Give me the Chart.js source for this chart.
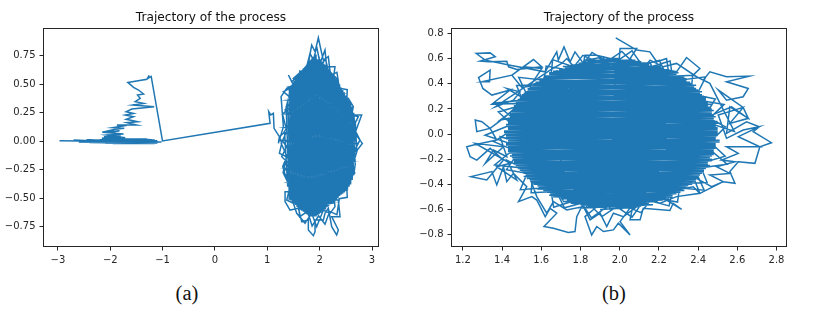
<!DOCTYPE html>
<html>
<head>
<meta charset="utf-8">
<script src="https://cdn.jsdelivr.net/npm/chart.js@4"></script>
<style>
    html, body { margin: 0; padding: 0; background: #fff; }
    #page { position: relative; width: 816px; height: 328px; overflow: hidden; }
    canvas { position: absolute; top: 0; }
    #chart_a { left: 0; }
    #chart_b { left: 410px; }
    .caption { position: absolute; top: 282px; font: 20.5px "Liberation Serif", serif; color: #111; transform: translateX(-50%); }
</style>
</head>
<body>
<div id="page">
    <canvas id="chart_a" width="400" height="271"></canvas>
    <canvas id="chart_b" width="406" height="271"></canvas>
    <div class="caption" style="left: 187px">(a)</div>
    <div class="caption" style="left: 614px">(b)</div>
</div>
<script>
//Values
let chart_title = 'Trajectory of the process';

let a_ticks_x = [-3, -2, -1, 0, 1, 2, 3];
let a_ticks_y = [-0.75, -0.5, -0.25, 0, 0.25, 0.5, 0.75];
let b_ticks_x = [1.2, 1.4, 1.6, 1.8, 2.0, 2.2, 2.4, 2.6, 2.8];
let b_ticks_y = [-0.8, -0.6, -0.4, -0.2, 0, 0.2, 0.4, 0.6, 0.8];

//Panel (a): flat start, climb, jump to the right, rims of the cloud, inside of the cloud
let a_x = [
    -2.97, -1.02, -2.7, -1.08, -2.6, -1.1, -2.45, -1.2, -2.35, -1.15, -2.2, -1.05, -2.1, -1.25, -2.05, -1.3, -2.0, -1.4,
    -2.1, -1.15, -2.4, -1.2, -1.9, -1.1, -1.95, -1.3, -2.15, -1.75, -2.12, -1.78, -2.05, -1.8,
    -2.16, -1.714, -2.064, -1.746, -2.033, -1.822, -2.153, -1.905, -1.733, -1.95, -1.759, -1.873, -1.492, -1.683, -1.479, -1.695, -1.555, -1.714, -1.555, -1.695, -1.587,
    -1.161, -1.568, -1.364, -1.524, -1.428, -1.479, -1.364, -1.46, -1.555, -1.664, -1.301, -1.256, -1.288, -1.218, -1.002,
    1.053, 1.027, 1.065, 1.116, 1.129, 1.231, 1.212,
    1.307, 1.263, 1.371, 1.498, 1.403, 1.466, 1.657, 1.784, 1.848, 1.912, 1.975, 2.039, 2.071, 2.166, 2.198, 2.325, 2.452, 2.548, 2.643, 2.611, 2.802, 2.675, 2.815, 2.719, 2.643, 2.548, 2.643, 2.484, 2.325, 2.198, 2.357, 2.389, 2.23, 2.357, 2.325, 2.23, 2.166, 2.102, 2.071, 1.912, 1.912, 1.88, 1.784, 1.784, 1.657, 1.594, 1.434, 1.339, 1.339, 1.466, 1.371, 1.295, 1.371, 1.231, 1.275, 1.231,
    1.307, 1.498, 1.339, 1.498, 1.307, 1.625, 1.498, 1.752, 1.816, 1.88, 1.943, 2.007, 2.102, 2.134, 2.293, 2.261, 2.484, 2.516, 2.738, 2.643, 2.77, 2.643, 2.707, 2.58, 2.452, 2.516, 2.261, 2.293, 2.198, 2.071, 1.943, 1.848, 1.721, 1.562, 1.498, 1.371, 1.434, 1.307, 1.403, 1.275, 1.371, 1.275,
    2.715, 2.587, 2.657, 2.513, 2.527, 2.376, 2.33, 2.191, 2.108, 1.98, 1.853, 1.769, 1.623, 1.584, 1.417, 1.447, 1.289, 1.373, 1.266, 1.373, 1.302, 1.447, 1.417, 1.584, 1.62, 1.769, 1.856, 1.98, 2.102, 2.191, 2.33, 2.376, 2.527, 2.513, 2.671, 2.587,
    1.33, 1.39, 1.45, 1.51, 1.57, 1.63, 1.69, 1.75, 1.81, 1.87, 1.93, 1.99, 2.05, 2.11, 2.17, 2.23, 2.29, 2.35, 2.41, 2.47, 2.53, 2.59, 2.65, 2.71,
    2.68, 2.62, 2.56, 2.5, 2.44, 2.38, 2.32, 2.26, 2.2, 2.14, 2.08, 2.02, 1.96, 1.9, 1.84, 1.78, 1.72, 1.66, 1.6, 1.54, 1.48, 1.42, 1.36,
    1.39, 1.45, 1.51, 1.57, 1.63, 1.69, 1.75, 1.81, 1.87, 1.93, 1.99, 2.05, 2.11, 2.17, 2.23, 2.29, 2.35, 2.41, 2.47, 2.53, 2.59, 2.65,
    2.68, 2.62, 2.56, 2.5, 2.44, 2.38, 2.32, 2.26, 2.2, 2.14, 2.08, 2.02, 1.96, 1.9, 1.84, 1.78, 1.72, 1.66, 1.6, 1.54, 1.48, 1.42,
    1.63, 2.3, 1.45, 2.42, 1.4, 2.55, 1.37, 2.62, 1.35, 2.67, 1.33, 2.7, 1.35, 2.62, 1.37, 2.55, 1.42, 2.44, 1.46, 2.27, 1.63
];
let a_y = [
    0.003, -0.006, 0.008, -0.01, -0.006, 0.004, 0.01, -0.012, -0.008, 0.01, 0.012, -0.008, -0.012, 0.014, 0.016, -0.012, -0.014, 0.018,
    -0.015, -0.02, -0.012, 0.012, 0.02, -0.016, -0.02, 0.02, 0.02, 0.015, 0.04, 0.035, 0.05, 0.045,
    0.025, 0.031, 0.054, 0.063, 0.075, 0.092, 0.078, 0.104, 0.113, 0.119, 0.133, 0.142, 0.142, 0.163, 0.171, 0.192, 0.215, 0.23, 0.244, 0.259, 0.282,
    0.303, 0.318, 0.332, 0.347, 0.376, 0.405, 0.414, 0.449, 0.473, 0.516, 0.543, 0.578, 0.549, 0.569, 0.002,
    0.157, 0.259, 0.23, 0.244, 0.113, 0.04, -0.019,
    0.127, 0.391, 0.464, 0.493, 0.581, 0.522, 0.61, 0.683, 0.844, 0.785, 0.908, 0.771, 0.712, 0.742, 0.61, 0.551, 0.391, 0.376, 0.303, 0.23, 0.23, 0.069, -0.019, -0.077, -0.194, -0.282, -0.253, -0.384, -0.428, -0.516, -0.516, -0.662, -0.662, -0.779, -0.823, -0.75, -0.589, -0.633, -0.691, -0.691, -0.793, -0.829, -0.779, -0.691, -0.706, -0.589, -0.604, -0.53, -0.443, -0.443, -0.34, -0.223, -0.136, -0.107, -0.019, 0.04,
    0.069, 0.215, 0.274, 0.361, 0.435, 0.508, 0.551, 0.654, 0.771, 0.712, 0.829, 0.683, 0.8, 0.654, 0.654, 0.537, 0.361, 0.244, 0.215, 0.127, 0.011, -0.106, -0.049, -0.223, -0.34, -0.282, -0.457, -0.574, -0.633, -0.604, -0.75, -0.633, -0.72, -0.633, -0.545, -0.516, -0.399, -0.282, -0.194, -0.136, -0.048, 0.011,
    -0.02, 0.09, 0.23, 0.297, 0.452, 0.465, 0.604, 0.576, 0.725, 0.614, 0.717, 0.576, 0.616, 0.465, 0.466, 0.297, 0.239, 0.09, -0.02, -0.13, -0.274, -0.337, -0.506, -0.505, -0.662, -0.616, -0.743, -0.654, -0.729, -0.616, -0.644, -0.505, -0.492, -0.337, -0.279, -0.13,
    0.08, -0.4, 0.48, -0.55, 0.58, -0.6, 0.64, -0.64, 0.71, -0.66, 0.76, -0.64, 0.7, -0.6, 0.63, -0.55, 0.56, -0.5, 0.47, -0.45, 0.38, -0.38, 0.25, -0.1,
    0.18, -0.34, 0.36, -0.44, 0.45, -0.48, 0.54, -0.54, 0.62, -0.58, 0.68, -0.63, 0.72, -0.66, 0.72, -0.65, 0.65, -0.61, 0.59, -0.56, 0.5, -0.46, 0.3,
    0.35, -0.52, 0.53, -0.58, 0.6, -0.62, 0.67, -0.65, 0.74, -0.66, 0.74, -0.62, 0.67, -0.57, 0.6, -0.53, 0.52, -0.47, 0.43, -0.43, 0.34, -0.3,
    -0.2, 0.3, -0.4, 0.4, -0.46, 0.5, -0.52, 0.58, -0.56, 0.65, -0.61, 0.72, -0.65, 0.75, -0.66, 0.69, -0.63, 0.62, -0.59, 0.55, -0.54, 0.42,
    0.6, 0.54, 0.48, 0.42, 0.36, 0.3, 0.24, 0.18, 0.12, 0.06, 0, -0.06, -0.12, -0.18, -0.24, -0.3, -0.36, -0.42, -0.48, -0.54, -0.6
];

//Panel (b): outer rim clockwise from the top, tangles near the edge, two inner rims, then the inside of the cloud
let b_x = [
    1.98, 2.087, 2.154, 2.189, 2.239, 2.248, 2.29, 2.341, 2.409, 2.375, 2.426, 2.46, 2.545, 2.661, 2.545, 2.656, 2.63, 2.545, 2.503, 2.63, 2.656, 2.562, 2.545, 2.647, 2.712, 2.681, 2.774, 2.715, 2.69, 2.605, 2.562, 2.588, 2.528, 2.46, 2.409, 2.375, 2.29, 2.239, 2.316, 2.273, 2.256, 2.12, 2.104, 2.053, 2.07, 2.002, 2.053, 1.993, 1.968, 1.917, 1.883, 1.857, 1.823, 1.874, 1.815, 1.781, 1.772, 1.738, 1.662, 1.614, 1.679, 1.645, 1.62, 1.577, 1.552, 1.484, 1.526, 1.458, 1.424, 1.407, 1.373, 1.348, 1.241, 1.322, 1.407, 1.339, 1.271, 1.237, 1.22, 1.254, 1.373, 1.339, 1.271, 1.263, 1.297, 1.339, 1.407, 1.492, 1.348, 1.441, 1.348, 1.302, 1.28, 1.339, 1.336, 1.297, 1.45, 1.509, 1.603, 1.543, 1.501, 1.45, 1.56, 1.603, 1.475, 1.433, 1.424, 1.331, 1.288, 1.365, 1.339, 1.268, 1.314, 1.441, 1.62, 1.679, 1.687, 1.716, 1.747, 1.772, 1.815, 1.823, 1.883, 1.951, 1.998, 2.002, 2.087, 2.053,
    2.469, 2.571, 2.656, 2.562, 2.63, 2.503, 2.545, 2.63, 2.712, 2.605, 2.715, 2.545, 2.605, 2.52, 2.588, 2.494, 2.562, 2.46, 2.528, 2.469, 2.375, 2.409,
    2.29, 2.206, 2.155, 2.087, 2.019, 1.968, 1.934, 1.9, 1.849, 1.815, 1.73, 1.662, 1.628, 1.577,
    1.526, 1.424, 1.475, 1.373, 1.441, 1.263, 1.407, 1.314, 1.356, 1.424, 1.39, 1.509, 1.475, 1.39, 1.526, 1.424, 1.492, 1.458, 1.365,
    1.645, 1.704, 1.73, 1.781, 1.832, 1.917, 1.934, 2.036, 2.12, 2.155, 2.222, 2.29, 2.392, 2.46,
    2.585, 2.44, 2.533, 2.382, 2.439, 2.273, 2.257, 2.127, 2.063, 1.96, 1.859, 1.793, 1.658, 1.647, 1.485, 1.538, 1.362, 1.48, 1.313, 1.48, 1.362, 1.538, 1.493, 1.647, 1.663, 1.793, 1.856, 1.96, 2.063, 2.127, 2.252, 2.273, 2.431, 2.382, 2.548, 2.44,
    2.54, 2.436, 2.488, 2.364, 2.372, 2.243, 2.202, 2.088, 2.011, 1.914, 1.812, 1.752, 1.625, 1.611, 1.474, 1.513, 1.381, 1.469, 1.358, 1.484, 1.422, 1.556, 1.548, 1.677, 1.718, 1.832, 1.909, 2.006, 2.108, 2.168, 2.295, 2.308, 2.446, 2.407, 2.538, 2.451,
    1.90, 2.11, 1.75, 2.22, 1.66, 2.29, 1.61, 2.34, 1.56, 2.38, 1.53, 2.41, 1.50, 2.44, 1.47, 2.45, 1.46, 2.47, 1.44, 2.48, 1.43, 2.49, 1.43, 2.50, 1.42, 2.49, 1.43, 2.49, 1.43, 2.48, 1.44, 2.47, 1.46, 2.45, 1.47, 2.44, 1.50, 2.41, 1.53, 2.38, 1.56, 2.34, 1.61, 2.29, 1.66, 2.22, 1.75, 2.11, 1.90,
    2.05, 1.80, 2.19, 1.70, 2.27, 1.63, 2.32, 1.58, 2.37, 1.54, 2.40, 1.51, 2.43, 1.48, 2.45, 1.46, 2.46, 1.45, 2.48, 1.43, 2.49, 1.43, 2.49, 1.42, 2.50, 1.43, 2.49, 1.43, 2.48, 1.44, 2.47, 1.45, 2.46, 1.47, 2.44, 1.49, 2.42, 1.52, 2.39, 1.55, 2.36, 1.59, 2.31, 1.64, 2.25, 1.71, 2.16, 1.82,
    2.08, 1.79, 2.21, 1.69, 2.30, 1.62, 2.34, 1.57, 2.39, 1.53, 2.42, 1.50, 2.44, 1.47, 2.47, 1.46, 2.48, 1.44, 2.49, 1.43, 2.51, 1.42, 2.50, 1.41, 2.50, 1.42, 2.51, 1.42, 2.49, 1.43, 2.48, 1.45, 2.47, 1.46, 2.45, 1.49, 2.42, 1.51, 2.39, 1.55, 2.35, 1.58, 2.31, 1.64, 2.24, 1.71, 2.17, 1.82,
    1.85, 2.14, 1.73, 2.27, 1.65, 2.33, 1.59, 2.37, 1.55, 2.40, 1.52, 2.43, 1.48, 2.46, 1.46, 2.47, 1.44, 2.48, 1.43, 2.49, 1.42, 2.51, 1.42, 2.50, 1.41, 2.50, 1.42, 2.50, 1.43, 2.48, 1.45, 2.47, 1.46, 2.45, 1.48, 2.43, 1.51, 2.40, 1.54, 2.37, 1.59, 2.33, 1.64, 2.27, 1.72, 2.15, 1.84,
    1.5, 1.53, 1.56, 1.59, 1.62, 1.65, 1.68, 1.71, 1.74, 1.77, 1.8, 1.83, 1.86, 1.89, 1.92, 1.95, 1.98, 2.01, 2.04, 2.07, 2.1, 2.13, 2.16, 2.19, 2.22, 2.25, 2.28, 2.31, 2.34, 2.37, 2.4
];
let b_y = [
    0.766, 0.668, 0.654, 0.575, 0.601, 0.509, 0.495, 0.609, 0.522, 0.469, 0.429, 0.495, 0.456, 0.461, 0.416, 0.363, 0.297, 0.27, 0.35, 0.212, 0.125, 0.217, 0.005, 0.098, 0.058, 0.019, -0.069, -0.101, -0.233, -0.22, -0.299, -0.392, -0.379, -0.432, -0.472, -0.419, -0.445, -0.525, -0.599, -0.551, -0.609, -0.591, -0.683, -0.683, -0.551, -0.697, -0.803, -0.71, -0.763, -0.776, -0.736, -0.803, -0.657, -0.591, -0.551, -0.657, -0.776, -0.784, -0.75, -0.736, -0.63, -0.591, -0.657, -0.525, -0.498, -0.538, -0.419, -0.313, -0.379, -0.26, -0.405, -0.299, -0.339, -0.366, -0.207, -0.114, -0.207, -0.18, -0.101, -0.087, -0.048, 0.045, 0.019, 0.111, 0.098, 0.045, 0.125, 0.244, 0.238, 0.35, 0.31, 0.363, 0.45, 0.509, 0.416, 0.416, 0.469, 0.535, 0.522, 0.381, 0.371, 0.469, 0.593, 0.535, 0.514, 0.535, 0.58, 0.575, 0.58, 0.615, 0.646, 0.641, 0.588, 0.548, 0.495, 0.654, 0.588, 0.694, 0.575, 0.654, 0.562, 0.628, 0.628, 0.601, 0.601, 0.681, 0.681, 0.601,
    0.151, 0.217, 0.125, 0.085, 0.212, 0.151, -0.034, 0.032, 0.058, -0.021, -0.101, -0.101, -0.154, -0.207, -0.22, -0.26, -0.313, -0.326, -0.379, -0.419, -0.339, -0.472,
    -0.498, -0.551, -0.525, -0.577, -0.657, -0.63, -0.736, -0.63, -0.683, -0.577, -0.604, -0.538, -0.63, -0.498,
    -0.286, -0.207, -0.366, -0.26, -0.233, -0.074, -0.101, -0.233, -0.127, -0.18, -0.021, -0.074, 0.138, 0.111, 0.27, 0.363, 0.336, 0.27, 0.217,
    0.509, 0.562, 0.601, 0.509, 0.588, 0.615, 0.522, 0.588, 0.522, 0.588, 0.535, 0.562, 0.456, 0.403,
    0.02, 0.096, 0.236, 0.276, 0.455, 0.423, 0.582, 0.519, 0.662, 0.552, 0.65, 0.519, 0.592, 0.423, 0.451, 0.276, 0.246, 0.096, -0.01, -0.096, -0.246, -0.276, -0.443, -0.423, -0.582, -0.519, -0.668, -0.552, -0.662, -0.519, -0.572, -0.423, -0.447, -0.276, -0.24, -0.096,
    0.057, 0.144, 0.279, 0.32, 0.467, 0.457, 0.587, 0.539, 0.657, 0.555, 0.626, 0.506, 0.541, 0.394, 0.386, 0.236, 0.176, 0.049, -0.06, -0.144, -0.284, -0.32, -0.467, -0.457, -0.587, -0.539, -0.657, -0.555, -0.626, -0.506, -0.541, -0.394, -0.386, -0.236, -0.176, -0.049,
    0.60, 0.575, 0.55, 0.525, 0.50, 0.475, 0.45, 0.425, 0.40, 0.375, 0.35, 0.325, 0.30, 0.275, 0.25, 0.225, 0.20, 0.175, 0.15, 0.125, 0.10, 0.075, 0.05, 0.025, 0, -0.025, -0.05, -0.075, -0.10, -0.125, -0.15, -0.175, -0.20, -0.225, -0.25, -0.275, -0.30, -0.325, -0.35, -0.375, -0.40, -0.425, -0.45, -0.475, -0.50, -0.525, -0.55, -0.575, -0.60,
    -0.5875, -0.5625, -0.5375, -0.5125, -0.4875, -0.4625, -0.4375, -0.4125, -0.3875, -0.3625, -0.3375, -0.3125, -0.2875, -0.2625, -0.2375, -0.2125, -0.1875, -0.1625, -0.1375, -0.1125, -0.0875, -0.0625, -0.0375, -0.0125, 0.0125, 0.0375, 0.0625, 0.0875, 0.1125, 0.1375, 0.1625, 0.1875, 0.2125, 0.2375, 0.2625, 0.2875, 0.3125, 0.3375, 0.3625, 0.3875, 0.4125, 0.4375, 0.4625, 0.4875, 0.5125, 0.5375, 0.5625, 0.5875,
    0.5875, 0.5625, 0.5375, 0.5125, 0.4875, 0.4625, 0.4375, 0.4125, 0.3875, 0.3625, 0.3375, 0.3125, 0.2875, 0.2625, 0.2375, 0.2125, 0.1875, 0.1625, 0.1375, 0.1125, 0.0875, 0.0625, 0.0375, 0.0125, -0.0125, -0.0375, -0.0625, -0.0875, -0.1125, -0.1375, -0.1625, -0.1875, -0.2125, -0.2375, -0.2625, -0.2875, -0.3125, -0.3375, -0.3625, -0.3875, -0.4125, -0.4375, -0.4625, -0.4875, -0.5125, -0.5375, -0.5625, -0.5875,
    -0.575, -0.55, -0.525, -0.50, -0.475, -0.45, -0.425, -0.40, -0.375, -0.35, -0.325, -0.30, -0.275, -0.25, -0.225, -0.20, -0.175, -0.15, -0.125, -0.10, -0.075, -0.05, -0.025, 0, 0.025, 0.05, 0.075, 0.10, 0.125, 0.15, 0.175, 0.20, 0.225, 0.25, 0.275, 0.30, 0.325, 0.35, 0.375, 0.40, 0.425, 0.45, 0.475, 0.50, 0.525, 0.55, 0.575,
    0.3, -0.36, 0.4, -0.44, 0.46, -0.49, 0.51, -0.53, 0.55, -0.56, 0.57, -0.58, 0.59, -0.59, 0.6, -0.6, 0.6, -0.6, 0.59, -0.59, 0.58, -0.57, 0.56, -0.54, 0.52, -0.5, 0.48, -0.45, 0.42, -0.38, 0.34
];

//matplotlib style closed frame round the plot area
const frame_plugin = {
    id: 'frame',
    afterDraw: (chart) => {
        let ctx = chart.ctx;
        let area = chart.chartArea;
        ctx.save();
        ctx.strokeStyle = '#262626';
        ctx.lineWidth = 1;
        ctx.strokeRect(area.left, area.top, area.right - area.left, area.bottom - area.top);
        ctx.restore();
    }
};

const tick_label = (value, decimals) => value.toFixed(decimals).replace('-', '\u2212');

const make_axis = (limits, tick_values, decimals, fit) => ({
    type: 'linear',
    min: limits[0],
    max: limits[1],
    afterBuildTicks: (scale) => { scale.ticks = tick_values.map(v => ({ value: v })); },
    afterFit: fit,
    grid: { drawOnChartArea: false, tickLength: 4, tickColor: '#262626', tickWidth: 1 },
    border: { display: false },
    ticks: {
        autoSkip: false,
        maxRotation: 0,
        padding: 4,
        color: '#262626',
        font: { family: 'DejaVu Sans', size: 10 },
        callback: (value) => tick_label(value, decimals)
    }
});

const render_chart = (canvas_id, xs, ys, settings) => {
    new Chart(document.getElementById(canvas_id), {
        type: 'scatter',
        data: {
            datasets: [{
                data: xs.map((x, i) => ({ x: x, y: ys[i] })),
                showLine: true,
                tension: 0,
                borderColor: '#1f77b4',
                borderWidth: 1.5,
                borderJoinStyle: 'miter',
                pointRadius: 0
            }]
        },
        options: {
            responsive: false,
            animation: false,
            events: [],
            layout: { padding: { right: settings.right_padding } },
            plugins: {
                legend: { display: false },
                tooltip: { enabled: false },
                title: {
                    display: true,
                    fullSize: false,
                    text: chart_title,
                    color: '#111',
                    font: { family: 'DejaVu Sans', size: 12.2, weight: 'normal', lineHeight: 1.2 },
                    padding: { top: 11, bottom: 2.86 }
                }
            },
            scales: {
                x: make_axis(settings.x_limits, settings.x_ticks, settings.x_decimals, (scale) => { scale.height = 24.5; }),
                y: make_axis(settings.y_limits, settings.y_ticks, settings.y_decimals, (scale) => { scale.width = settings.left_width; })
            }
        },
        plugins: [frame_plugin]
    });
};

render_chart('chart_a', a_x, a_y, {
    left_width: 43.5, right_padding: 21.5,
    x_limits: [-3.275, 3.124], y_limits: [-0.924, 0.989],
    x_ticks: a_ticks_x, y_ticks: a_ticks_y, x_decimals: 0, y_decimals: 2
});
render_chart('chart_b', b_x, b_y, {
    left_width: 41.5, right_padding: 29.5,
    x_limits: [1.142, 2.851], y_limits: [-0.895, 0.84],
    x_ticks: b_ticks_x, y_ticks: b_ticks_y, x_decimals: 1, y_decimals: 1
});
</script>
</body>
</html>
